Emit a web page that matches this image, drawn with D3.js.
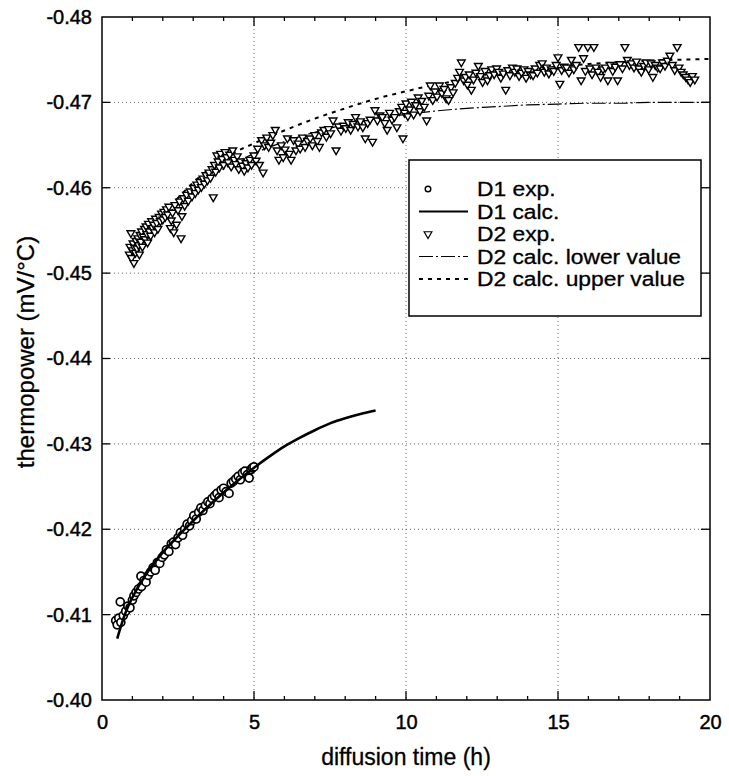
<!DOCTYPE html>
<html><head><meta charset="utf-8">
<script src="https://cdn.jsdelivr.net/npm/d3@7"></script>
<style>body{margin:0;background:#fff}text{font-family:"Liberation Sans",Arial,sans-serif;fill:#000}</style>
</head><body><svg id="c" width="729" height="776"></svg>
<script>
const xTicks=[0,5,10,15,20];
const yTicks=[-0.40,-0.41,-0.42,-0.43,-0.44,-0.45,-0.46,-0.47,-0.48];
const legendLabels=["D1 exp.","D1 calc.","D2 exp.","D2 calc. lower value","D2 calc. upper value"];
const d1Exp=[[0.45,-0.4093],[0.50,-0.4088],[0.55,-0.4096],[0.60,-0.4115],[0.62,-0.4091],[0.70,-0.4099],[0.78,-0.4104],[0.85,-0.4110],[0.92,-0.4108],[1.00,-0.4117],[1.05,-0.4122],[1.12,-0.4126],[1.20,-0.4130],[1.28,-0.4145],[1.30,-0.4133],[1.38,-0.4140],[1.45,-0.4138],[1.52,-0.4146],[1.60,-0.4150],[1.68,-0.4155],[1.75,-0.4152],[1.82,-0.4161],[1.90,-0.4160],[1.98,-0.4167],[2.05,-0.4170],[2.12,-0.4176],[2.20,-0.4174],[2.28,-0.4183],[2.35,-0.4185],[2.42,-0.4182],[2.50,-0.4190],[2.58,-0.4196],[2.65,-0.4193],[2.72,-0.4200],[2.80,-0.4206],[2.88,-0.4204],[2.95,-0.4210],[3.02,-0.4216],[3.10,-0.4212],[3.18,-0.4220],[3.25,-0.4225],[3.32,-0.4222],[3.40,-0.4228],[3.48,-0.4232],[3.55,-0.4230],[3.62,-0.4236],[3.70,-0.4239],[3.78,-0.4242],[3.85,-0.4237],[3.92,-0.4246],[4.00,-0.4248],[4.08,-0.4244],[4.18,-0.4242],[4.25,-0.4254],[4.32,-0.4256],[4.40,-0.4259],[4.48,-0.4262],[4.55,-0.4258],[4.62,-0.4266],[4.70,-0.4268],[4.78,-0.4264],[4.84,-0.4260],[4.90,-0.4270],[4.95,-0.4272],[5.00,-0.4273]];
const d1Calc=[[0.5,-0.4072],[0.75,-0.4100],[1.0,-0.4120],[1.5,-0.4150],[2.0,-0.4173],[2.5,-0.4192],[3.0,-0.4210],[3.5,-0.4227],[4.0,-0.4243],[4.5,-0.4258],[5.0,-0.4272],[5.5,-0.4285],[6.0,-0.4297],[6.5,-0.4307],[7.0,-0.4316],[7.5,-0.4324],[8.0,-0.4330],[8.5,-0.4335],[9.0,-0.4339]];
const d2Exp=[[0.90,-0.4522],[0.92,-0.4531],[0.95,-0.4547],[0.97,-0.4518],[1.00,-0.4527],[1.02,-0.4535],[1.05,-0.4512],[1.07,-0.4530],[1.10,-0.4524],[1.12,-0.4538],[1.15,-0.4529],[1.18,-0.4541],[1.20,-0.4533],[1.23,-0.4522],[1.25,-0.4545],[1.28,-0.4537],[1.30,-0.4549],[1.33,-0.4531],[1.36,-0.4543],[1.40,-0.4552],[1.42,-0.4540],[1.45,-0.4555],[1.48,-0.4546],[1.50,-0.4536],[1.53,-0.4558],[1.56,-0.4549],[1.60,-0.4544],[1.63,-0.4561],[1.66,-0.4553],[1.70,-0.4557],[1.73,-0.4548],[1.76,-0.4564],[1.80,-0.4559],[1.84,-0.4552],[1.88,-0.4566],[1.92,-0.4561],[1.96,-0.4570],[2.00,-0.4563],
[2.04,-0.4572],[2.08,-0.4566],[2.12,-0.4575],[2.16,-0.4569],[2.20,-0.4578],[2.25,-0.4553],[2.28,-0.4562],[2.32,-0.4571],[2.36,-0.4548],[2.40,-0.4580],[2.45,-0.4557],[2.50,-0.4574],[2.55,-0.4584],[2.60,-0.4541],[2.63,-0.4567],[2.68,-0.4588],[2.72,-0.4579],[2.78,-0.4592],[2.84,-0.4585],[2.90,-0.4596],[2.96,-0.4590],
[3.02,-0.4600],[3.07,-0.4594],[3.12,-0.4604],[3.17,-0.4598],[3.22,-0.4607],[3.27,-0.4601],[3.32,-0.4611],[3.37,-0.4605],[3.42,-0.4615],[3.47,-0.4609],[3.52,-0.4618],[3.57,-0.4612],[3.62,-0.4622],[3.66,-0.4589],[3.70,-0.4627],[3.74,-0.4619],[3.78,-0.4638],[3.82,-0.4631],[3.86,-0.4624],[3.90,-0.4640],[3.95,-0.4634],[4.00,-0.4627],[4.05,-0.4642],[4.10,-0.4636],[4.15,-0.4630],[4.20,-0.4639],[4.25,-0.4625],[4.30,-0.4644],[4.35,-0.4633],[4.40,-0.4628],[4.45,-0.4637],[4.50,-0.4622],[4.56,-0.4631],[4.62,-0.4626],[4.68,-0.4620],[4.74,-0.4629],[4.80,-0.4624],[4.86,-0.4633],[4.92,-0.4627],
[5.00,-0.4638],[5.07,-0.4632],[5.12,-0.4646],[5.18,-0.4627],[5.25,-0.4656],[5.30,-0.4618],[5.35,-0.4650],[5.42,-0.4659],[5.48,-0.4648],[5.55,-0.4653],[5.62,-0.4662],[5.70,-0.4668],[5.76,-0.4644],[5.82,-0.4633],[5.90,-0.4650],[5.96,-0.4636],[6.02,-0.4645],[6.10,-0.4658],[6.16,-0.4640],[6.22,-0.4633],[6.30,-0.4656],[6.38,-0.4644],[6.45,-0.4652],[6.52,-0.4646],[6.60,-0.4659],[6.68,-0.4648],[6.76,-0.4655],[6.85,-0.4658],[6.92,-0.4650],[7.00,-0.4662],[7.08,-0.4655],[7.15,-0.4648],[7.22,-0.4665],[7.30,-0.4668],[7.38,-0.4660],[7.45,-0.4669],[7.52,-0.4664],[7.60,-0.4679],[7.70,-0.4644],[7.78,-0.4672],[7.86,-0.4667],[7.94,-0.4673],[8.02,-0.4670],[8.10,-0.4677],[8.18,-0.4668],[8.26,-0.4675],[8.34,-0.4683],[8.42,-0.4672],[8.50,-0.4678],[8.58,-0.4671],[8.66,-0.4658],[8.74,-0.4676],[8.82,-0.4680],[8.90,-0.4654],[8.98,-0.4691],[9.06,-0.4679],[9.14,-0.4685],[9.22,-0.4683],[9.30,-0.4676],[9.38,-0.4668],[9.46,-0.4688],[9.54,-0.4680],[9.62,-0.4683],[9.70,-0.4671],[9.78,-0.4690],[9.86,-0.4695],[9.90,-0.4658],[9.95,-0.4688],
[10.00,-0.4699],[10.06,-0.4684],[10.12,-0.4692],[10.18,-0.4701],[10.25,-0.4686],[10.32,-0.4697],[10.40,-0.4706],[10.46,-0.4690],[10.52,-0.4702],[10.60,-0.4695],[10.68,-0.4679],[10.75,-0.4708],[10.80,-0.4720],[10.88,-0.4703],[10.95,-0.4713],[11.02,-0.4707],[11.10,-0.4720],[11.18,-0.4711],[11.25,-0.4716],[11.32,-0.4705],[11.40,-0.4703],[11.48,-0.4718],[11.55,-0.4712],[11.62,-0.4723],[11.70,-0.4729],[11.76,-0.4736],[11.82,-0.4747],[11.90,-0.4726],[11.96,-0.4730],
[12.02,-0.4721],[12.08,-0.4733],[12.15,-0.4715],[12.22,-0.4727],[12.30,-0.4735],[12.38,-0.4743],[12.45,-0.4731],[12.52,-0.4724],[12.60,-0.4737],[12.68,-0.4726],[12.75,-0.4732],[12.82,-0.4739],[12.90,-0.4733],[12.98,-0.4740],[13.05,-0.4736],[13.12,-0.4729],[13.20,-0.4734],[13.28,-0.4715],[13.35,-0.4738],[13.42,-0.4732],[13.50,-0.4741],[13.58,-0.4736],[13.65,-0.4740],[13.72,-0.4731],[13.80,-0.4735],[13.88,-0.4739],[13.95,-0.4729],[14.02,-0.4737],[14.10,-0.4733],[14.18,-0.4732],[14.25,-0.4740],[14.32,-0.4735],[14.40,-0.4744],[14.48,-0.4746],[14.55,-0.4736],[14.62,-0.4741],[14.70,-0.4734],[14.78,-0.4739],[14.86,-0.4737],[14.94,-0.4744],[15.00,-0.4753],[15.06,-0.4722],[15.12,-0.4738],[15.20,-0.4742],[15.28,-0.4741],[15.36,-0.4735],[15.44,-0.4750],[15.52,-0.4739],[15.60,-0.4744],[15.68,-0.4765],[15.76,-0.4726],[15.84,-0.4752],[15.90,-0.4737],[15.98,-0.4765],[16.05,-0.4740],[16.12,-0.4733],[16.18,-0.4765],[16.25,-0.4741],[16.32,-0.4736],[16.40,-0.4730],[16.48,-0.4739],[16.56,-0.4741],[16.64,-0.4726],[16.72,-0.4744],[16.80,-0.4737],[16.88,-0.4742],[16.96,-0.4726],[17.04,-0.4745],[17.12,-0.4740],[17.20,-0.4765],[17.28,-0.4750],[17.35,-0.4744],[17.42,-0.4746],[17.50,-0.4741],[17.58,-0.4748],[17.66,-0.4740],[17.74,-0.4736],[17.82,-0.4743],[17.90,-0.4747],[17.98,-0.4739],[18.06,-0.4746],[18.12,-0.4730],[18.20,-0.4744],[18.28,-0.4741],[18.36,-0.4740],[18.44,-0.4747],[18.52,-0.4743],[18.60,-0.4749],[18.68,-0.4755],[18.76,-0.4744],[18.84,-0.4738],[18.92,-0.4765],[18.98,-0.4741],[19.05,-0.4736],[19.12,-0.4733],[19.20,-0.4730],[19.28,-0.4727],[19.35,-0.4724],[19.42,-0.4731],[19.50,-0.4727]];
const d2Lower=[[1,-0.4518],[1.5,-0.4542],[2,-0.4563],[2.5,-0.4581],[3,-0.4597],[3.5,-0.4611],[4,-0.4622],[5,-0.4640],[6,-0.4654],[7,-0.4665],[8,-0.4674],[9,-0.4681],[10,-0.4686],[11,-0.4690],[12,-0.4693],[13,-0.4695],[14,-0.4697],[15,-0.4698],[16,-0.4699],[17,-0.4699],[18,-0.4700],[19,-0.4700],[20,-0.4700]];
const d2Upper=[[1,-0.4520],[1.5,-0.4546],[2,-0.4568],[2.5,-0.4588],[3,-0.4606],[3.5,-0.4621],[4,-0.4634],[5,-0.4652],[6,-0.4667],[7,-0.4681],[8,-0.4693],[9,-0.4704],[10,-0.4713],[11,-0.4721],[12,-0.4727],[13,-0.4733],[14,-0.4738],[15,-0.4742],[16,-0.4745],[17,-0.4747],[18,-0.4749],[19,-0.4750],[20,-0.4751]];

const svg=d3.select("#c");
const L=102,R=710,T=17,B=700;
const x=d3.scaleLinear().domain([0,20]).range([L,R]);
const y=d3.scaleLinear().domain([-0.40,-0.48]).range([B,T]);

// grid
const g=svg.append("g");
g.selectAll(".gx").data(xTicks.slice(1,-1)).join("line")
 .attr("x1",d=>x(d)).attr("x2",d=>x(d)).attr("y1",T).attr("y2",B)
 .attr("stroke","#666").attr("stroke-width",1).attr("stroke-dasharray","1,3");
g.selectAll(".gy").data(yTicks.slice(1,-1)).join("line")
 .attr("x1",L).attr("x2",R).attr("y1",d=>y(d)).attr("y2",d=>y(d))
 .attr("stroke","#666").attr("stroke-width",1).attr("stroke-dasharray","1,3");

// axes
const minor=d3.range(1,20);
const fmtY=d=>d3.format(".2f")(d).replace("\u2212","-");
const axB=d3.axisBottom(x).tickValues(xTicks).tickSize(0).tickPadding(15).tickFormat(d3.format("d"));
const gb=svg.append("g").attr("transform",`translate(0,${B})`).call(axB);
const axL=d3.axisLeft(y).tickValues(yTicks).tickSize(0).tickPadding(10).tickFormat(fmtY);
const gl=svg.append("g").attr("transform",`translate(${L},0)`).call(axL);
[gb,gl].forEach(a=>{a.select(".domain").remove();a.selectAll("text").attr("font-size",20).attr("font-family","Liberation Sans, Arial, sans-serif").attr("fill","#000").attr("stroke","#000").attr("stroke-width",0.45);});
gb.selectAll("text").attr("dy","0.71em");

// inner ticks
const tk=svg.append("g").attr("stroke","#000").attr("stroke-width",1.3);
minor.forEach(d=>{const len=(d%5===0)?9:4;
 tk.append("line").attr("x1",x(d)).attr("x2",x(d)).attr("y1",B).attr("y2",B-len);
 tk.append("line").attr("x1",x(d)).attr("x2",x(d)).attr("y1",T).attr("y2",T+len);});
yTicks.slice(1,-1).forEach(d=>{
 tk.append("line").attr("x1",L).attr("x2",L+8).attr("y1",y(d)).attr("y2",y(d));
 tk.append("line").attr("x1",R).attr("x2",R-9).attr("y1",y(d)).attr("y2",y(d));});

// frame
svg.append("rect").attr("x",L).attr("y",T).attr("width",R-L).attr("height",B-T).attr("fill","none").attr("stroke","#000").attr("stroke-width",1.5);

const line=d3.line().x(d=>x(d[0])).y(d=>y(d[1])).curve(d3.curveMonotoneX);
svg.append("path").datum(d2Lower).attr("d",line).attr("fill","none").attr("stroke","#000").attr("stroke-width",1.2).attr("stroke-dasharray","14,3,2,3");
svg.append("path").datum(d2Upper).attr("d",line).attr("fill","none").attr("stroke","#000").attr("stroke-width",2).attr("stroke-dasharray","4,5");

const tri=d3.symbol().type(d3.symbolTriangle).size(26);
svg.append("g").selectAll("path").data(d2Exp).join("path")
 .attr("d",tri).attr("transform",d=>`translate(${x(d[0])},${y(d[1])}) rotate(180)`)
 .attr("fill","#fff").attr("stroke","#000").attr("stroke-width",1.4);

svg.append("g").selectAll("circle").data(d1Exp).join("circle")
 .attr("cx",d=>x(d[0])).attr("cy",d=>y(d[1])).attr("r",4)
 .attr("fill","#fff").attr("stroke","#000").attr("stroke-width",1.7);
svg.append("path").datum(d1Calc).attr("d",line).attr("fill","none").attr("stroke","#000").attr("stroke-width",2.6);

// titles
svg.append("text").attr("x",(L+R)/2).attr("y",757).attr("text-anchor","middle").attr("dominant-baseline","central").attr("font-size",23).attr("stroke","#000").attr("stroke-width",0.3).text("diffusion time (h)");
svg.append("text").attr("transform",`translate(25,352) rotate(-90)`).attr("text-anchor","middle").attr("dominant-baseline","central").attr("font-size",24).attr("stroke","#000").attr("stroke-width",0.3).text("thermopower (mV/°C)");

// legend
const lg=svg.append("g");
lg.append("rect").attr("x",409).attr("y",160).attr("width",292).attr("height",156).attr("fill","#fff").attr("stroke","#000").attr("stroke-width",1.5);
const ly=[189,211.5,234,256.5,279];
legendLabels.forEach((t,i)=>{
  const tx=lg.append("text").attr("x",477).attr("y",ly[i]).attr("dominant-baseline","central").attr("font-size",22.8).attr("stroke","#000").attr("stroke-width",0.3).text(t);
  const w=tx.node().getComputedTextLength();
  tx.attr("font-size",19.5).attr("textLength",w).attr("lengthAdjust","spacingAndGlyphs");
});
lg.append("circle").attr("cx",428).attr("cy",ly[0]).attr("r",2.8).attr("fill","#fff").attr("stroke","#000").attr("stroke-width",1.4);
lg.append("line").attr("x1",419).attr("x2",468).attr("y1",ly[1]).attr("y2",ly[1]).attr("stroke","#000").attr("stroke-width",2);
lg.append("path").attr("d",tri).attr("transform",`translate(428,${ly[2]}) rotate(180)`).attr("fill","#fff").attr("stroke","#000").attr("stroke-width",1.2);
lg.append("line").attr("x1",419).attr("x2",468).attr("y1",ly[3]).attr("y2",ly[3]).attr("stroke","#000").attr("stroke-width",1.2).attr("stroke-dasharray","14,3,2,3");
lg.append("line").attr("x1",419).attr("x2",468).attr("y1",ly[4]).attr("y2",ly[4]).attr("stroke","#000").attr("stroke-width",2).attr("stroke-dasharray","4,5");
</script></body></html>
